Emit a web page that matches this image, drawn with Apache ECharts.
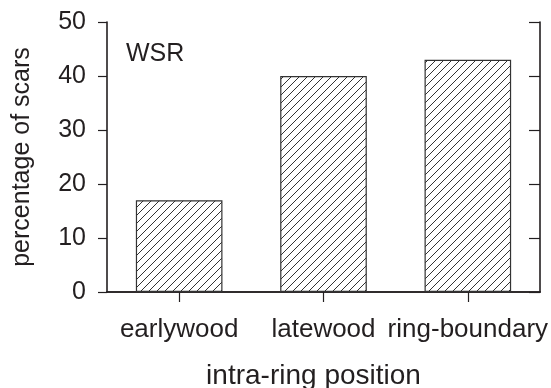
<!DOCTYPE html>
<html>
<head>
<meta charset="utf-8">
<script src="https://cdn.jsdelivr.net/npm/echarts@6/dist/echarts.min.js"></script>
<style>html,body{margin:0;padding:0;background:#fff;overflow:hidden;}#c{width:551px;height:388px;}</style>
</head>
<body>
<div id="c"></div>
<script>
const categories = ['earlywood', 'latewood', 'ring-boundary'];
const scarPercent = [17, 40, 43];
const yTicks = [0, 10, 20, 30, 40, 50];
const panelLabel = 'WSR';
const xTitle = 'intra-ring position';
const yTitle = 'percentage of scars';

const ink = '#231f20';
const font = "'Liberation Sans', Arial, Helvetica, sans-serif";

function hatch() {
  const s = 8;
  const cv = document.createElement('canvas');
  cv.width = s; cv.height = s;
  const ctx = cv.getContext('2d');
  ctx.fillStyle = '#fff';
  ctx.fillRect(0, 0, s, s);
  ctx.strokeStyle = '#333';
  ctx.lineWidth = 1;
  ctx.beginPath();
  ctx.moveTo(-1, s + 1); ctx.lineTo(s + 1, -1);
  ctx.moveTo(-1, 1); ctx.lineTo(1, -1);
  ctx.moveTo(s - 1, s + 1); ctx.lineTo(s + 1, s - 1);
  ctx.stroke();
  return cv;
}

const chart = echarts.init(document.getElementById('c'), null, {renderer: 'canvas'});
const yMin = yTicks[0], yMax = yTicks[yTicks.length - 1], yStep = yTicks[1] - yTicks[0];
chart.setOption({
  animation: false,
  backgroundColor: '#fff',
  title: {
    text: panelLabel, left: 121, top: 37,
    textStyle: {fontFamily: font, fontSize: 25, fontWeight: 'normal', color: ink}
  },
  grid: {left: 107, right: 11, top: 22, bottom: 96, containLabel: false, outerBoundsMode: 'none'},
  xAxis: [{
    type: 'category', data: categories, position: 'bottom',
    axisLine: {show: true, lineStyle: {color: ink, width: 1.6}},
    axisTick: {show: true, alignWithLabel: true, length: 10, lineStyle: {color: ink, width: 1.2}},
    axisLabel: {fontFamily: font, fontSize: 26, color: ink, margin: 25, interval: 0},
    name: xTitle, nameLocation: 'middle', nameGap: 70,
    nameTextStyle: {fontFamily: font, fontSize: 28, color: ink, padding: [0, 20, 0, 0]}
  }, {
    type: 'category', data: categories, position: 'top',
    axisLine: {show: true, lineStyle: {color: ink, width: 1.6}},
    axisTick: {show: false}, axisLabel: {show: false}
  }],
  yAxis: [{
    type: 'value', min: yMin, max: yMax, interval: yStep, position: 'left',
    axisLine: {show: true, lineStyle: {color: ink, width: 1.6}},
    axisTick: {show: true, length: 9, lineStyle: {color: ink, width: 1.2}},
    axisLabel: {fontFamily: font, fontSize: 25, color: ink, margin: 21},
    splitLine: {show: false},
    name: yTitle, nameLocation: 'middle', nameGap: 72,
    nameTextStyle: {fontFamily: font, fontSize: 25, color: ink}
  }, {
    type: 'value', min: yMin, max: yMax, interval: yStep, position: 'right',
    axisLine: {show: true, lineStyle: {color: ink, width: 1.6}},
    axisTick: {show: true, inside: true, length: 11, lineStyle: {color: ink, width: 1.2}},
    axisLabel: {show: false}, splitLine: {show: false}
  }],
  series: [{
    type: 'bar', data: scarPercent, barWidth: '60%',
    xAxisIndex: 0, yAxisIndex: 0,
    itemStyle: {color: {image: hatch(), repeat: 'repeat'}, borderColor: '#333', borderWidth: 1.2}
  }]
});
</script>
</body>
</html>
